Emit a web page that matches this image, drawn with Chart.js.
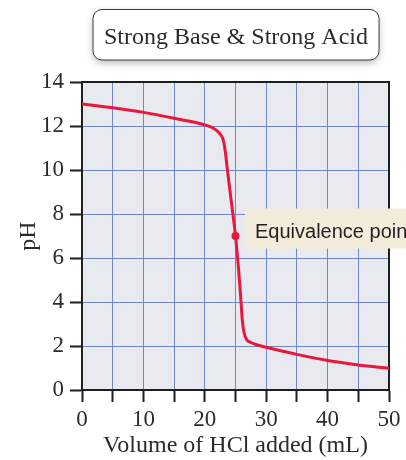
<!DOCTYPE html>
<html>
<head>
<meta charset="utf-8">
<script src="https://cdn.jsdelivr.net/npm/chart.js@4"></script>
<style>
  html, body { margin: 0; padding: 0; background: #ffffff; }
  #wrap { width: 406px; height: 460px; }
</style>
</head>
<body>
<div id="wrap"><canvas id="titrationChart" width="406" height="460"></canvas></div>
<script>
const chartTitle = "Strong Base & Strong Acid";
const xTitle = "Volume of HCl added (mL)";
const yTitle = "pH";
const pointLabel = "Equivalence point";

const volumes = [0, 5, 10, 15, 20, 21.4, 22.3, 22.9, 23.2, 23.4, 23.6, 24.3, 25, 25.5, 25.9, 26.1, 26.4, 26.8, 27.5, 28.2, 30, 35, 40, 45, 50];
const phValues = [13.0, 12.83, 12.62, 12.35, 12.05, 11.9, 11.7, 11.45, 11.1, 10.7, 10.2, 8.6, 7.0, 5.5, 4.0, 3.2, 2.6, 2.3, 2.16, 2.08, 1.94, 1.62, 1.34, 1.14, 0.99];
const equivalence = [{ x: 25, y: 7 }];

const serif = "'Liberation Serif', 'DejaVu Serif', serif";
const textColor = "#2b2b2b";

const decor = {
    id: "decor",
    beforeDraw(chart) {
        const { ctx, chartArea: a } = chart;
        ctx.save();
        ctx.fillStyle = "#e9eaf0";
        ctx.fillRect(a.left, a.top, a.right - a.left, a.bottom - a.top);
        ctx.restore();
    },
    beforeDatasetsDraw(chart) {
        const { ctx, chartArea: a } = chart;
        ctx.save();
        ctx.strokeStyle = "#1e1e1e";
        ctx.lineWidth = 2;
        ctx.strokeRect(a.left, a.top, a.right - a.left, a.bottom - a.top);
        ctx.restore();
    },
    afterDraw(chart) {
        const { ctx } = chart;
        ctx.save();
        // title box
        ctx.shadowColor = "rgba(0,0,0,0.28)";
        ctx.shadowBlur = 7;
        ctx.shadowOffsetY = 3;
        ctx.fillStyle = "#ffffff";
        ctx.beginPath();
        ctx.roundRect(93, 9.5, 286, 50.5, 9);
        ctx.fill();
        ctx.shadowColor = "transparent";
        ctx.strokeStyle = "#3a3a3a";
        ctx.lineWidth = 1;
        ctx.stroke();
        ctx.fillStyle = textColor;
        ctx.font = "24px " + serif;
        ctx.textAlign = "center";
        ctx.textBaseline = "alphabetic";
        ctx.fillText(chartTitle, 236, 44);

        // equivalence label
        ctx.fillStyle = "#f4ecda";
        ctx.fillRect(245, 208.5, 161, 40);
        ctx.fillStyle = "#231f20";
        ctx.font = "20px 'Liberation Sans', Arial, sans-serif";
        ctx.textAlign = "left";
        ctx.fillText(pointLabel, 255, 237.5);
        ctx.restore();
    }
};

new Chart(document.getElementById("titrationChart"), {
    type: "scatter",
    data: {
        datasets: [{
            data: volumes.map((v, i) => ({ x: v, y: phValues[i] })),
            showLine: true,
            borderColor: "#e8173d",
            borderWidth: 3,
            pointRadius: 0,
            cubicInterpolationMode: "monotone"
        }, {
            data: equivalence,
            pointRadius: 4,
            pointBackgroundColor: "#e8173d",
            pointBorderWidth: 0
        }]
    },
    options: {
        responsive: false,
        animation: false,
        layout: { padding: { left: 0, right: 17, top: 82, bottom: 0 } },
        plugins: { legend: { display: false }, tooltip: { enabled: false } },
        scales: {
            x: {
                type: "linear",
                min: 0, max: 50,
                afterFit: s => { s.height = 70; },
                grid: { color: "#7089c4", lineWidth: 1, tickColor: "#1e1e1e", tickLength: 12, tickWidth: 2 },
                border: { color: "#1e1e1e", width: 2 },
                ticks: {
                    stepSize: 5, padding: 4, color: textColor, font: { family: serif, size: 23 },
                    maxRotation: 0, autoSkip: false,
                    callback: v => v % 10 === 0 ? v : ""
                },
                title: { display: true, text: xTitle, color: textColor, font: { family: serif, size: 24 }, padding: { top: 0, bottom: 0 } }
            },
            y: {
                min: 0, max: 14,
                afterFit: s => { s.width = 82; },
                grid: { color: "#7089c4", lineWidth: 1, tickColor: "#1e1e1e", tickLength: 12, tickWidth: 2 },
                border: { color: "#1e1e1e", width: 2 },
                ticks: { stepSize: 2, padding: 6, color: textColor, font: { family: serif, size: 23 } },
                title: { display: true, text: yTitle, color: textColor, font: { family: serif, size: 24 }, padding: { top: 14, bottom: 0 } }
            }
        }
    },
    plugins: [decor]
});
</script>
</body>
</html>
